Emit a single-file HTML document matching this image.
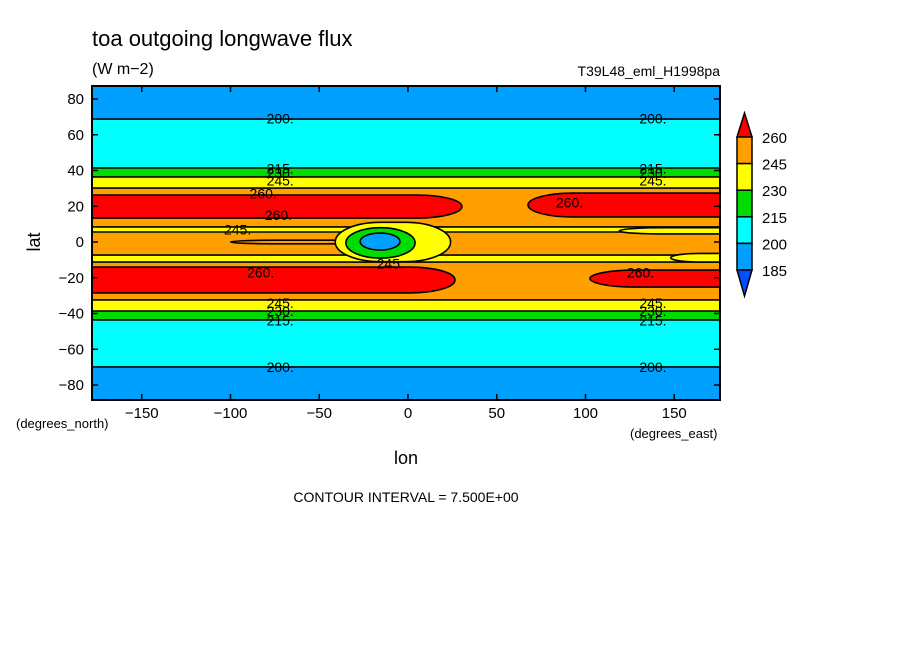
<!DOCTYPE html>
<html><head><meta charset="utf-8">
<style>
body{margin:0;background:#fff;}
svg text{font-family:"Liberation Sans",sans-serif;}
</style></head>
<body>
<svg id="chart" width="904" height="654" viewBox="0 0 904 654" xmlns="http://www.w3.org/2000/svg">
<text x="92" y="46" font-size="22">toa outgoing longwave flux</text>
<text x="92" y="74" font-size="16">(W m−2)</text>
<text x="720" y="76" font-size="14" text-anchor="end">T39L48_eml_H1998pa</text>
<g id="plot"></g>
<g id="axes"></g>
<g id="legend"></g>
<text transform="translate(40,242) rotate(-90)" font-size="18" text-anchor="middle">lat</text>
<text x="406" y="464" font-size="18" text-anchor="middle">lon</text>
<text x="16" y="428" font-size="13">(degrees_north)</text>
<text x="630" y="438" font-size="13">(degrees_east)</text>
<text x="406" y="502" font-size="14" text-anchor="middle">CONTOUR INTERVAL = 7.500E+00</text>
</svg>
<script>
const NS="http://www.w3.org/2000/svg";
const levels=["185","200","215","230","245","260"];
const colors=["#00a0ff","#00ffff","#00dc00","#ffff00","#ffa000","#ff0000"];
// zonal bands
const bandLatTop=[87.5,68.8,41.4,36.4,30.2,8.4,5.6,-7.3,-11.2,-32.4,-38.6,-43.6,-69.9];
const bandLatBot=[68.8,41.4,36.4,30.2,8.4,5.6,-7.3,-11.2,-32.4,-38.6,-43.6,-69.9,-88];
const bandLevel=[0,1,2,3,4,3,4,3,4,3,2,1,0];
// regional patches
const patchLon0=[-180,67.6,-180,102.5,-100,119,148,-41,-35,-27];
const patchLon1=[30.4,180,26.5,180,-14,180,180,24,4,-4.5];
const patchLatTop=[26.3,27.4,-14,-15.7,1,8,-6.4,11,8,5];
const patchLatBot=[13.4,14,-28.5,-25.2,-1,4.5,-11.2,-11,-9,-4.5];
const patchLevel=[5,5,5,5,4,3,3,3,2,0];
// contour labels
const labLon=[-72,138,-72,138,-72,138,-72,138,-81.6,-73,-96,-10,-83,91,131,-72,-72,138,138,-72,-72,138,138];
const labLat=[69,69,-70,-70,41,41,-44,-44,27,15,7,-12,-17,22,-17,38.5,34.5,38.5,34.5,-34,-38.5,-34,-38.5];
const labText=["200.","200.","200.","200.","215.","215.","215.","215.","260.","260.","245.","245.","260.","260.","260.","230.","245.","230.","245.","245.","230.","245.","230."];
const xTicks=[-150,-100,-50,0,50,100,150];
const yTicks=[80,60,40,20,0,-20,-40,-60,-80];

const X0=92,X1=720,Y0=86,Y1=400;
const xs=lon=>408+lon*1.775;
const ys=lat=>242-lat*1.7875;
const cx=v=>Math.max(X0,Math.min(X1,v));
const cy=v=>Math.max(Y0,Math.min(Y1,v));
const plot=document.getElementById('plot');
function mk(tag,attrs,parent){const e=document.createElementNS(NS,tag);for(const k in attrs)e.setAttribute(k,attrs[k]);parent.appendChild(e);return e;}

for(let i=0;i<bandLevel.length;i++){
  const y0=cy(ys(bandLatTop[i])),y1=cy(ys(bandLatBot[i]));
  const r=mk('rect',{x:X0,y:y0,width:X1-X0,height:y1-y0,fill:colors[bandLevel[i]]},plot);
  
  
  mk('line',{x1:X0,x2:X1,y1:y0,y2:y0,stroke:'#000','stroke-width':1.6},plot);
}
const clip=mk('clipPath',{id:'pc'},plot);
mk('rect',{x:X0,y:Y0,width:X1-X0,height:Y1-Y0},clip);
const pg=mk('g',{'clip-path':'url(#pc)'},plot);
for(let i=0;i<patchLevel.length;i++){
  let x0=xs(patchLon0[i]),x1=xs(patchLon1[i]);
  const y0=cy(ys(patchLatTop[i])),y1=cy(ys(patchLatBot[i]));
  const ry=(y1-y0)/2;
  const rx=Math.min((x1-x0)/2,45);
  if(x0<=X0) x0=X0-rx-5;
  if(x1>=X1) x1=X1+rx+5;
  const r=mk('rect',{x:x0,y:y0,width:x1-x0,height:y1-y0,rx:rx,ry:ry,fill:colors[patchLevel[i]],stroke:'#000','stroke-width':1.6},pg);
  
  
}
for(let i=0;i<labText.length;i++){
  const t=mk('text',{x:xs(labLon[i]),y:ys(labLat[i])+5,'font-size':14,'text-anchor':'middle'},plot);
  t.textContent=labText[i];
  
  
}
const axes=document.getElementById('axes');
mk('rect',{x:X0,y:Y0,width:X1-X0,height:Y1-Y0,fill:'none',stroke:'#000','stroke-width':2},axes);
xTicks.forEach(v=>{const x=xs(v);
  mk('line',{x1:x,x2:x,y1:Y1,y2:Y1-6,stroke:'#000','stroke-width':1.5},axes);
  mk('line',{x1:x,x2:x,y1:Y0,y2:Y0+6,stroke:'#000','stroke-width':1.5},axes);
  const t=mk('text',{x:x,y:418,'font-size':15,'text-anchor':'middle'},axes);t.textContent=v<0?'−'+(-v):v;
  
  
});
yTicks.forEach(v=>{const y=ys(v);
  mk('line',{x1:X0,x2:X0+6,y1:y,y2:y,stroke:'#000','stroke-width':1.5},axes);
  mk('line',{x1:X1,x2:X1-6,y1:y,y2:y,stroke:'#000','stroke-width':1.5},axes);
  const t=mk('text',{x:84,y:y+5,'font-size':15,'text-anchor':'end'},axes);t.textContent=v<0?'−'+(-v):v;
  
  
});
const leg=document.getElementById('legend');
const LX=737,LW=15,BH=26.6,LTop=137;
mk('polygon',{points:`${LX},${LTop} ${LX+LW},${LTop} ${LX+LW/2},113`,fill:colors[5],stroke:'#000','stroke-width':1.5},leg);
for(let k=0;k<5;k++){
  const ci=4-k,y=LTop+k*BH;
  const r=mk('rect',{x:LX,y:y,width:LW,height:BH,fill:colors[ci],stroke:'#000','stroke-width':1.5},leg);
  
  
}
const yb=LTop+5*BH;
mk('polygon',{points:`${LX},${yb} ${LX+LW},${yb} ${LX+LW/2},${yb+26}`,fill:'#0050ff',stroke:'#000','stroke-width':1.5},leg);
for(let k=0;k<6;k++){
  const t=mk('text',{x:762,y:LTop+k*BH+6,'font-size':15},leg);t.textContent=levels[5-k];
  
  
}
</script>
</body></html>
